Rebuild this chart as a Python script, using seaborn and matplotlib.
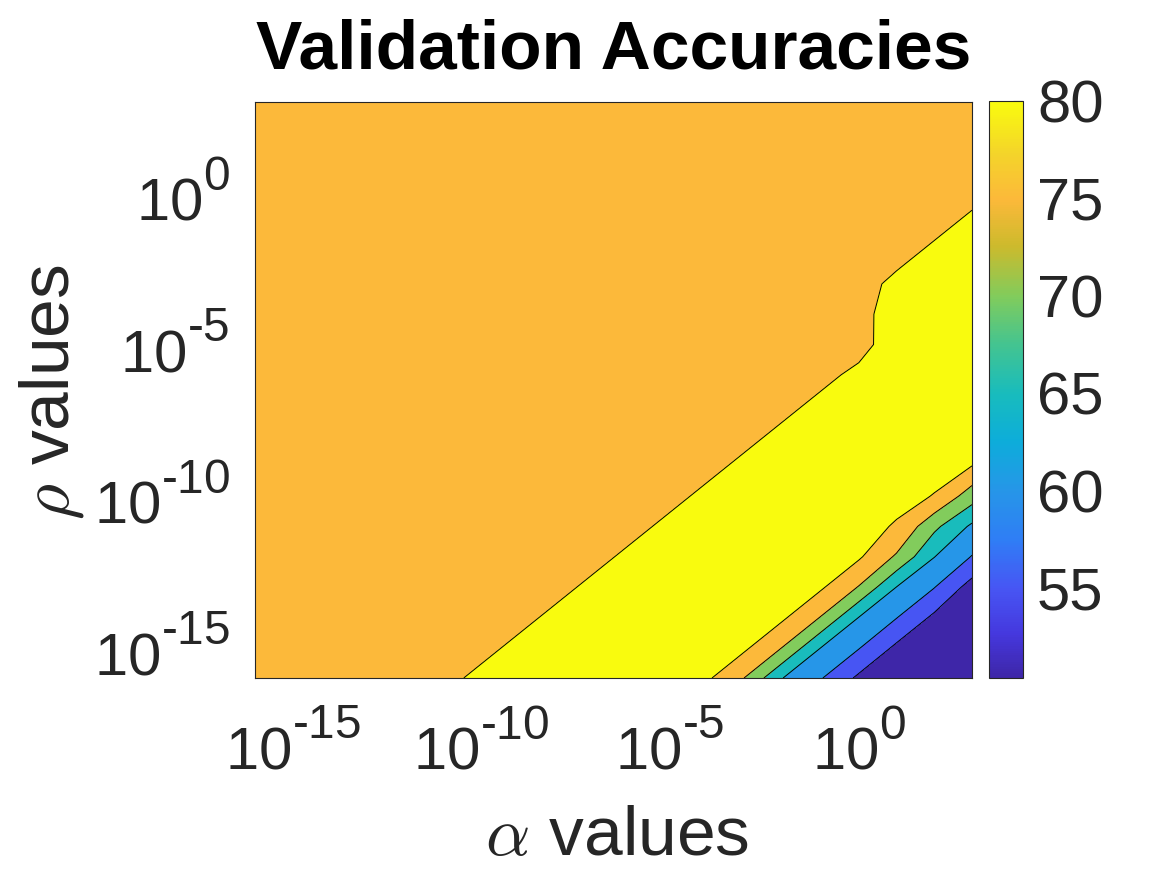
import numpy as np
import matplotlib
matplotlib.use('Agg')
import matplotlib.pyplot as plt
import matplotlib._mathtext as mathtext_internals
from matplotlib.colors import LinearSegmentedColormap, Normalize
from matplotlib.cm import ScalarMappable
import seaborn as sns

# grid of exponents (10^k) for alpha (x) and rho (y)
alpha_exp = np.arange(-16, 4)
rho_exp = np.arange(-16, 4)
tick_exp = [-15, -10, -5, 0]

# accuracies for alpha <= 1e-1 only depend on log10(alpha) - log10(rho), d = -19 .. 15
acc_diag = [77.1, 77.1, 77.2, 77.2, 77.2, 77.3, 77.3, 77.3, 77.4, 77.4,
            77.4, 77.5, 77.5, 77.6, 77.6, 77.7, 77.7, 77.8, 77.9, 78.0,
            78.3, 78.7, 79.1, 79.4, 79.66, 80.3, 80.5, 80.6, 80.65, 80.7,
            80.6, 80.65, 74.76, 64.95, 60.3]

# last columns (alpha = 1e0 .. 1e3), rho from 1e-16 up to 1e3
acc_a0 = [54.06, 60.3, 64.95, 74.76, 80.65, 80.6, 80.7, 80.65, 80.6, 80.5,
          80.3, 79.55, 79.6, 79.37, 78.7, 78.3, 78.0, 77.9, 77.8, 77.7]
acc_a1 = [52.3, 54.0, 60.2, 64.95, 74.34, 79.85, 80.5, 80.6, 80.6, 80.55,
          80.5, 80.7, 80.6, 80.4, 79.47, 78.9, 78.4, 78.1, 77.9, 77.8]
acc_a2 = [51.2, 52.2, 54.0, 60.2, 65.11, 71.19, 79.94, 80.5, 80.6, 80.6,
          80.55, 80.5, 80.45, 80.4, 80.4, 79.47, 78.9, 78.4, 78.1, 77.9]
acc_a3 = [50.4, 51.0, 51.9, 52.95, 59.78, 64.1, 72.3, 80.02, 80.5, 80.6,
          80.6, 80.55, 80.5, 80.45, 80.4, 80.4, 79.47, 78.9, 78.4, 78.1]

cbar_ticks = [55, 60, 65, 70, 75, 80]
fill_levels = [50, 55, 60, 65, 70, 75, 80, 81]
line_levels = [55, 60, 65, 70, 75, 80]

# build the grid (rows = rho, cols = alpha)
Z = np.empty((len(rho_exp), len(alpha_exp)))
for i in range(len(rho_exp)):
    for j in range(16):
        Z[i, j] = acc_diag[j - i + 19]
Z[:, 16] = acc_a0
Z[:, 17] = acc_a1
Z[:, 18] = acc_a2
Z[:, 19] = acc_a3

# parula-like colormap
parula = LinearSegmentedColormap.from_list('parula', [
    (0.000, '#3E26A8'), (0.075, '#4538DE'), (0.155, '#4756F4'),
    (0.240, '#2F7EF5'), (0.324, '#2696E8'), (0.410, '#0DADDA'),
    (0.493, '#18BCBD'), (0.580, '#45C48F'), (0.662, '#81CC5C'),
    (0.750, '#CDBA2C'), (0.831, '#FCB93A'), (0.910, '#F4D42A'),
    (1.000, '#F9FB0E')])
norm = Normalize(vmin=50.4, vmax=80.0)
band_colors = [parula(norm(v)) for v in [50.4] + line_levels]

sns.set_theme(style='white')
plt.rcParams['font.family'] = ['Liberation Sans', 'DejaVu Sans']
plt.rcParams['mathtext.fontset'] = 'custom'
plt.rcParams['mathtext.rm'] = 'Liberation Sans'
plt.rcParams['mathtext.it'] = 'Liberation Sans:italic'
plt.rcParams['mathtext.bf'] = 'Liberation Sans:bold'
# matlab-style exponents: a bit bigger and raised higher than mathtext's default
if hasattr(mathtext_internals, 'SHRINK_FACTOR'):
    mathtext_internals.SHRINK_FACTOR = 0.8
if hasattr(mathtext_internals, 'FontConstantsBase'):
    mathtext_internals.FontConstantsBase.sup1 = 0.97

W, H = 1167, 875
fig = plt.figure(figsize=(W / 100, H / 100), dpi=100)
ax = fig.add_axes([255 / W, 197 / H, 717 / W, 576 / H])
cax = fig.add_axes([989 / W, 197 / H, 34 / W, 577 / H])

ax.contourf(alpha_exp, rho_exp, Z, levels=fill_levels, colors=band_colors)
ax.contour(alpha_exp, rho_exp, Z, levels=line_levels, colors='black', linewidths=0.7)
ax.set_xlim(-16, 3)
ax.set_ylim(-16, 3)

gray = '#262626'
ax.set_xticks(tick_exp)
ax.set_yticks(tick_exp)
ax.set_xticklabels([r'$10^{\text{%d}}$' % e for e in tick_exp])
ax.set_yticklabels([r'$10^{\text{%d}}$' % e for e in tick_exp])
ax.tick_params(axis='x', direction='in', length=5.5, width=0.8, top=True,
               labelsize=43, pad=26, color=gray, labelcolor=gray)
ax.tick_params(axis='y', direction='in', length=5.5, width=0.8, right=True,
               labelsize=43, pad=18, color=gray, labelcolor=gray)
for s in ax.spines.values():
    s.set_color(gray)
    s.set_linewidth(0.8)

ax.set_title('Validation Accuracies', fontsize=50, fontweight='bold',
             y=1.044, va='baseline', color='black')
ax.set_xlabel(r'$\alpha$ values', fontsize=50, color=gray, math_fontfamily='cm')
ax.xaxis.set_label_coords(617 / W, 1 - 855 / H, transform=fig.transFigure)
ax.xaxis.label.set_va('baseline')
ax.set_ylabel(r'$\rho$ values', fontsize=50, color=gray, math_fontfamily='cm')
ax.yaxis.set_label_coords(68 / W, 1 - 392 / H, transform=fig.transFigure)
ax.yaxis.label.set_va('baseline')

cb = fig.colorbar(ScalarMappable(norm=norm, cmap=parula), cax=cax, ticks=cbar_ticks)
cax.tick_params(direction='in', length=7, width=0.8, labelsize=43, pad=10,
                color=gray, labelcolor=gray)
cb.outline.set_edgecolor(gray)
cb.outline.set_linewidth(0.8)

fig.savefig('out.png', dpi=100)
